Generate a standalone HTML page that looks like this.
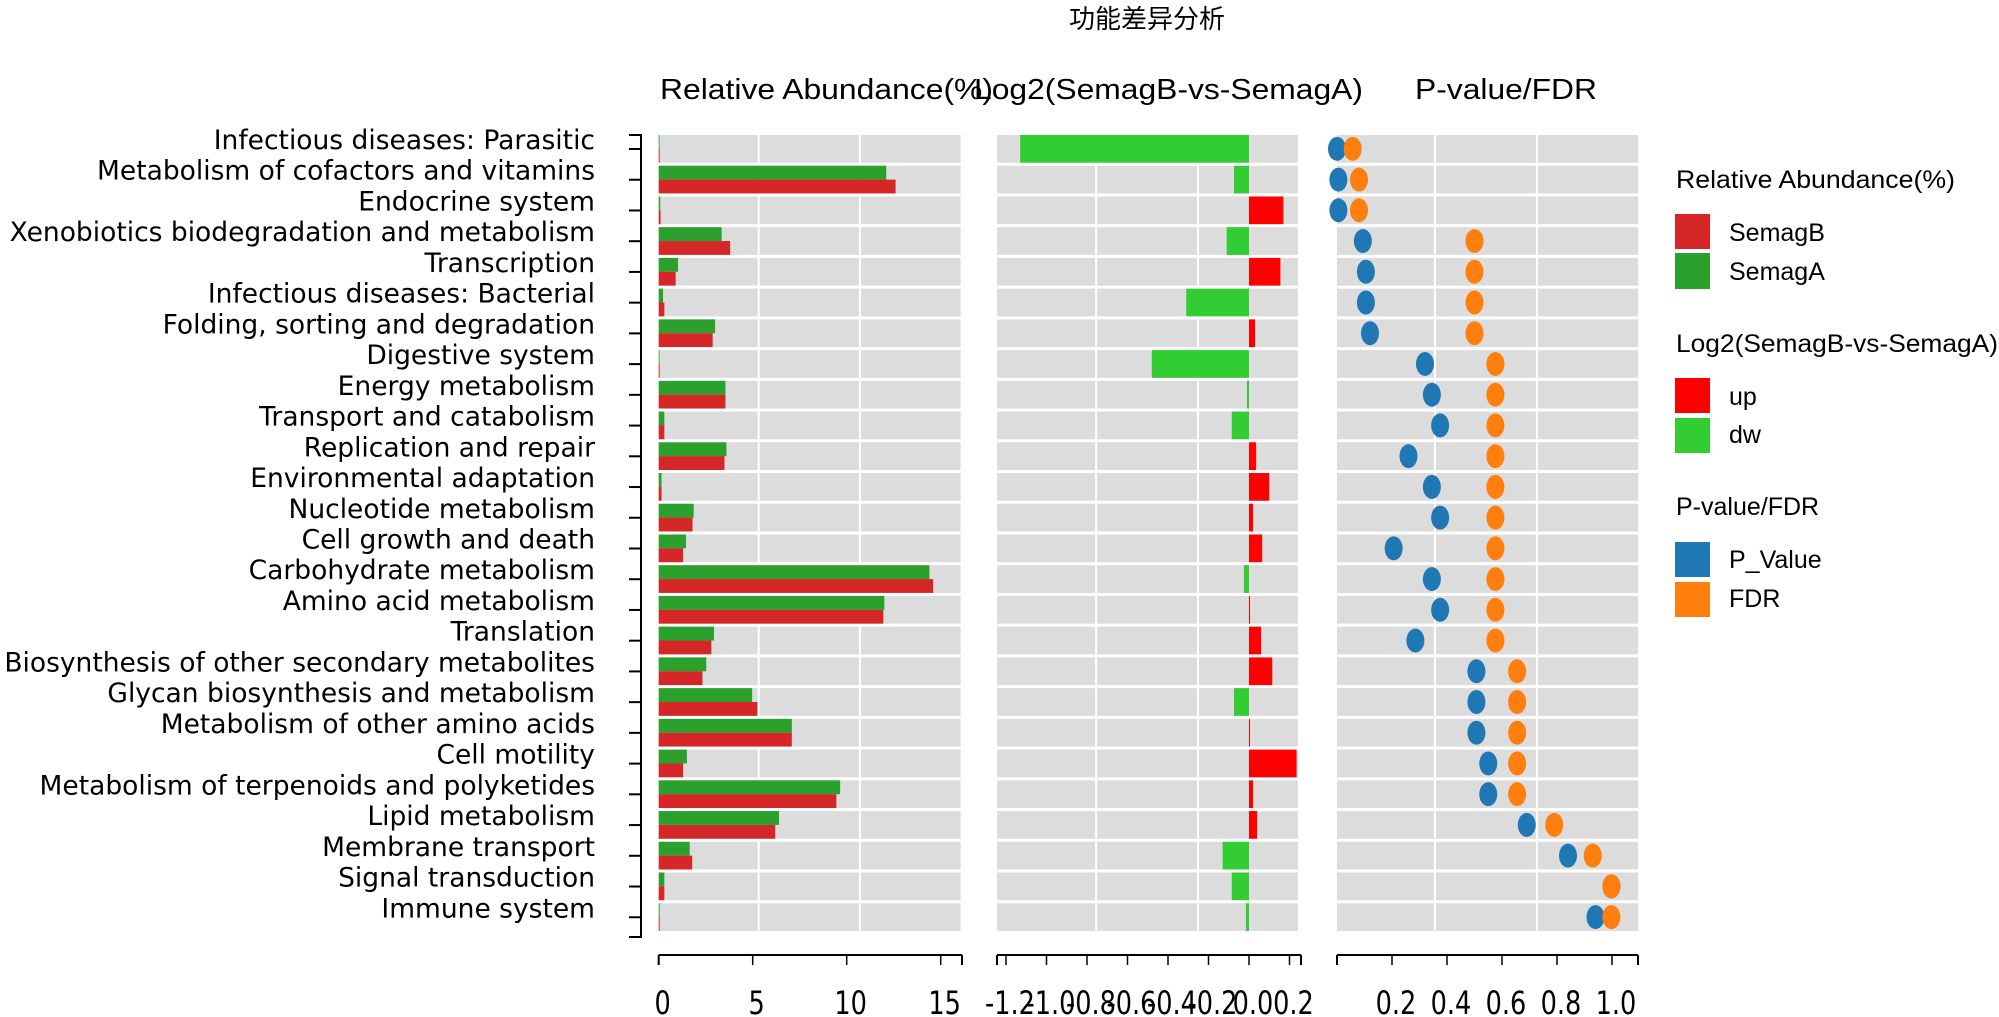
<!DOCTYPE html>
<html><head><meta charset="utf-8"><style>
html,body{margin:0;padding:0;background:#fff;}
svg{display:block;}
</style></head><body>
<svg id="chart" width="1999" height="1017" xmlns="http://www.w3.org/2000/svg">
<text x="1147" y="28" text-anchor="middle" font-family="'Liberation Sans','Noto Sans CJK SC',sans-serif" font-size="26" fill="#000">功能差异分析</text>
<text x="660" y="99" font-family="'Liberation Sans',sans-serif" font-size="29" textLength="333" lengthAdjust="spacingAndGlyphs">Relative Abundance(%)</text>
<text x="974" y="99" font-family="'Liberation Sans',sans-serif" font-size="29" textLength="389" lengthAdjust="spacingAndGlyphs">Log2(SemagB-vs-SemagA)</text>
<text x="1415" y="99" font-family="'Liberation Sans',sans-serif" font-size="29" textLength="182" lengthAdjust="spacingAndGlyphs">P-value/FDR</text>
<g id="plot"></g>
<g font-family="'Liberation Sans',sans-serif" font-size="25">
 <text x="1676" y="188" textLength="279" lengthAdjust="spacingAndGlyphs">Relative Abundance(%)</text>
 <rect x="1675" y="214" width="35" height="35" fill="#d62728"/>
 <text x="1729" y="241">SemagB</text>
 <rect x="1675" y="253" width="35" height="36" fill="#2ca02c"/>
 <text x="1729" y="280">SemagA</text>
 <text x="1676" y="352" textLength="322" lengthAdjust="spacingAndGlyphs">Log2(SemagB-vs-SemagA)</text>
 <rect x="1675" y="378" width="35" height="35" fill="#ff0000"/>
 <text x="1729" y="405">up</text>
 <rect x="1675" y="418" width="35" height="35" fill="#32cd32"/>
 <text x="1729" y="443">dw</text>
 <text x="1676" y="515">P-value/FDR</text>
 <rect x="1675" y="542" width="35" height="35" fill="#1f77b4"/>
 <text x="1729" y="568">P_Value</text>
 <rect x="1675" y="582" width="35" height="35" fill="#ff7f0e"/>
 <text x="1729" y="607">FDR</text>
</g>
</svg>
<script>
const categories = ["Infectious diseases: Parasitic","Metabolism of cofactors and vitamins","Endocrine system","Xenobiotics biodegradation and metabolism","Transcription","Infectious diseases: Bacterial","Folding, sorting and degradation","Digestive system","Energy metabolism","Transport and catabolism","Replication and repair","Environmental adaptation","Nucleotide metabolism","Cell growth and death","Carbohydrate metabolism","Amino acid metabolism","Translation","Biosynthesis of other secondary metabolites","Glycan biosynthesis and metabolism","Metabolism of other amino acids","Cell motility","Metabolism of terpenoids and polyketides","Lipid metabolism","Membrane transport","Signal transduction","Immune system"];
const semagA = [0.03,12.1,0.08,3.35,1.03,0.23,3.0,0.03,3.55,0.3,3.6,0.15,1.86,1.45,14.4,12.0,2.94,2.53,4.97,7.08,1.5,9.65,6.4,1.65,0.3,0.05];
const semagB = [0.05,12.6,0.1,3.8,0.9,0.3,2.87,0.05,3.55,0.3,3.5,0.15,1.8,1.3,14.6,11.95,2.8,2.33,5.25,7.08,1.3,9.45,6.2,1.78,0.3,0.05];
const log2fc = [-1.13,-0.074,0.17,-0.11,0.155,-0.31,0.03,-0.48,-0.01,-0.085,0.035,0.10,0.02,0.065,-0.025,0.005,0.06,0.115,-0.074,0.003,0.235,0.02,0.04,-0.13,-0.085,-0.015];
const pValues = [0.0,0.005,0.005,0.094,0.105,0.105,0.12,0.32,0.345,0.375,0.26,0.345,0.375,0.206,0.345,0.375,0.285,0.507,0.507,0.507,0.55,0.55,0.69,0.84,0.998,0.94];
const fdrValues = [0.057,0.08,0.08,0.50,0.50,0.50,0.50,0.576,0.576,0.576,0.576,0.576,0.576,0.576,0.576,0.576,0.576,0.655,0.655,0.655,0.655,0.655,0.79,0.93,0.998,0.998];
const ticks1 = [0,5,10,15];
const tickLabels1 = ["0","5","10","15"];
const ticks2 = [-1.2,-1.0,-0.8,-0.6,-0.4,-0.2,0.0,0.2];
const tickLabels2 = ["-1.2","-1.0","-0.8","-0.6","-0.4","-0.2","0.0","0.2"];
const ticks3 = [0.2,0.4,0.6,0.8,1.0];
const tickLabels3 = ["0.2","0.4","0.6","0.8","1.0"];
const grid1 = [5.32,10.7];
const grid2 = [-0.755,-0.252];
const grid3 = [0.356,0.727];

const NS="http://www.w3.org/2000/svg";
const plot=document.getElementById('plot');
function mk(tag,attrs,parent){const e=document.createElementNS(NS,tag);for(const k in attrs)e.setAttribute(k,attrs[k]);(parent||plot).appendChild(e);return e;}
const x1=v=>658.7+v*18.8, x2=v=>1249+v*202.5, x3=v=>1337+v*275;
const top0=135, pitch=30.73, rowH=27.7;
const rowY=i=>top0+i*pitch;
const axisY=955;

const panels=[[x1(0),x1(16.06),grid1,x1],[x2(-1.244),x2(0.242),grid2,x2],[x3(0),x3(1.095),grid3,x3]];
panels.forEach((p,pi)=>{
  categories.forEach((c,i)=>{
    const r=mk('rect',{x:p[0],y:rowY(i),width:p[1]-p[0],height:rowH,fill:'#dcdcdc'});
    
    
    p[2].forEach(g=>{
      const l=mk('line',{x1:p[3](g),x2:p[3](g),y1:rowY(i),y2:rowY(i)+rowH,stroke:'#fff','stroke-width':2});
      
      
    });
  });
});

categories.forEach((c,i)=>{
  const y=rowY(i);
  const t=mk('text',{x:595,y:y+14,'text-anchor':'end','font-family':"'DejaVu Sans',sans-serif",'font-size':26.5,fill:'#000'});
  t.textContent=c;
  
  
  const tk=mk('line',{x1:629,x2:641,y1:y+14,y2:y+14,stroke:'#000','stroke-width':2});
  
  
  const ga=mk('rect',{x:x1(0),y:y,width:Math.max(0.8,x1(semagA[i])-x1(0)),height:rowH/2,fill:'#2ca02c'});
  
  
  const rb=mk('rect',{x:x1(0),y:y+rowH/2,width:Math.max(0.8,x1(semagB[i])-x1(0)),height:rowH/2,fill:'#d62728'});
  
  
  const v=log2fc[i];
  const lb=mk('rect',{x:Math.min(x2(0),x2(v)),y:y,width:Math.max(1,Math.abs(x2(v)-x2(0))),height:rowH,fill:v>=0?'#ff0000':'#32cd32'});
  
  
  const pd=mk('ellipse',{cx:x3(pValues[i]),cy:y+rowH/2,rx:9,ry:12,fill:'#1f77b4'});
  
  
  const fd=mk('ellipse',{cx:x3(fdrValues[i]),cy:y+rowH/2,rx:9,ry:12,fill:'#ff7f0e'});
  
  
});
const ya=mk('path',{d:`M629 ${top0}H641V937H629`,fill:'none',stroke:'#000','stroke-width':2});



function axis(name,a,b,ticks,labels,sc){
  const al=mk('line',{x1:a,x2:b,y1:axisY,y2:axisY,stroke:'#000','stroke-width':2});
  
  
  [a,b].forEach(xx=>{const e=mk('line',{x1:xx,x2:xx,y1:axisY,y2:axisY+10,stroke:'#000','stroke-width':2});
    
    });
  ticks.forEach((v,k)=>{
    const tl=mk('line',{x1:sc(v),x2:sc(v),y1:axisY,y2:axisY+10,stroke:'#000','stroke-width':1.5});
    
    
    const cx=sc(v)+4;
    const tx=mk('text',{x:cx,y:1014,'text-anchor':'middle','font-family':"'DejaVu Sans',sans-serif",'font-size':32,fill:'#000',transform:`translate(${cx},0) scale(0.8,1) translate(${-cx},0)`});
    tx.textContent=labels[k];
    
    
  });
}
axis('abundance',658.7,962,ticks1,tickLabels1,x1);
axis('log2',997,1301,ticks2,tickLabels2,x2);
axis('pvalue',1337,1638,ticks3,tickLabels3,x3);
</script>
</body></html>
